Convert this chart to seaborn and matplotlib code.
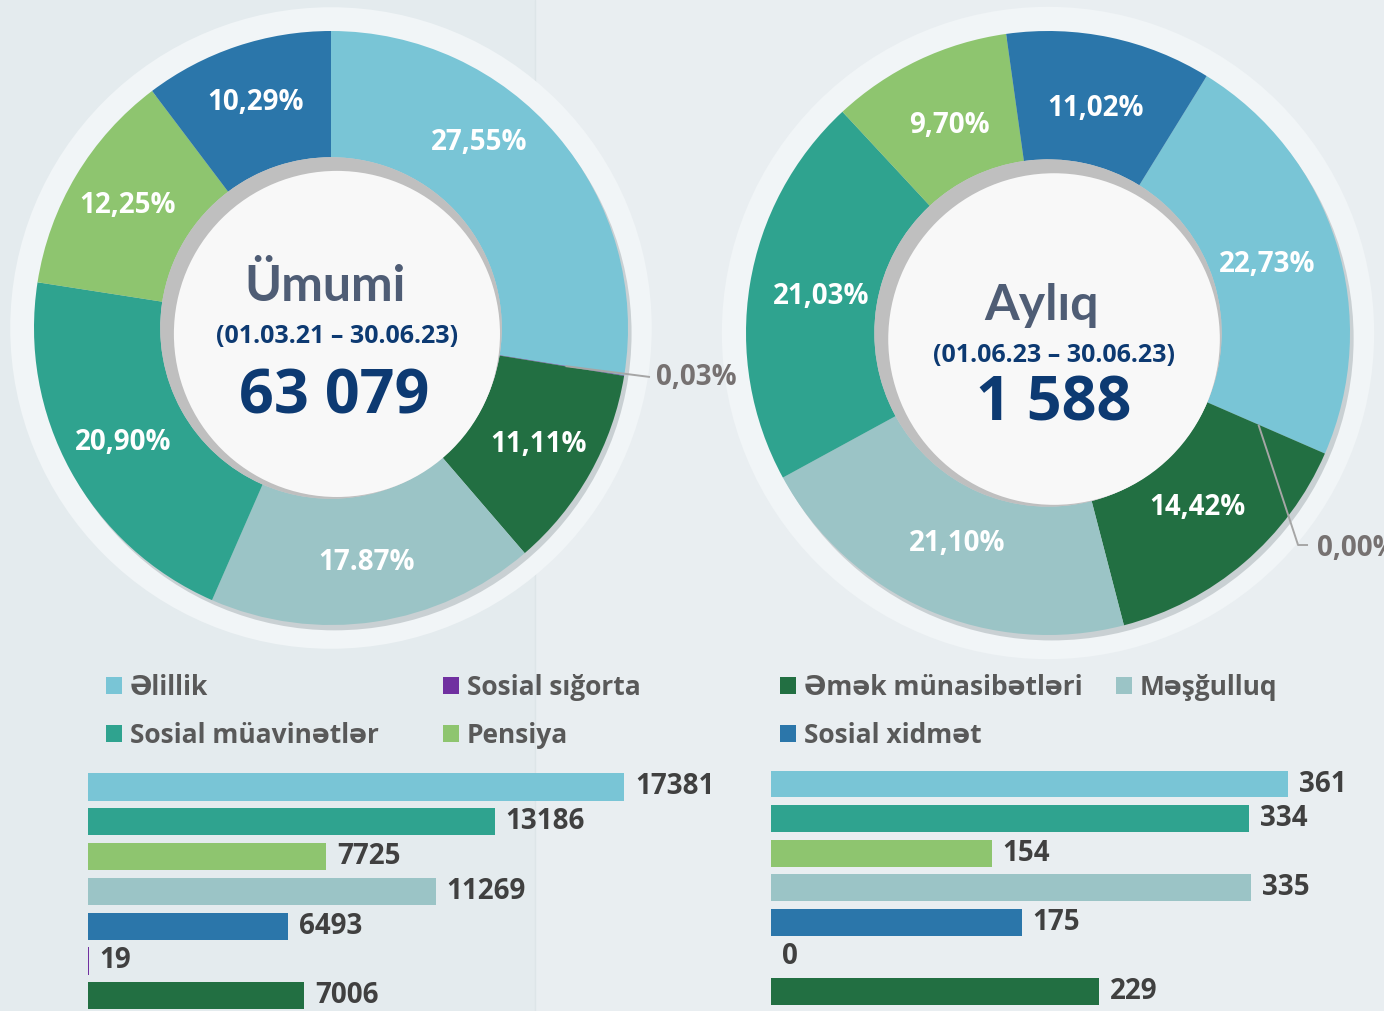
import numpy as np
import pandas as pd
import matplotlib
matplotlib.use("Agg")
import matplotlib.pyplot as plt
from matplotlib.patches import Circle, Patch, Rectangle
import seaborn as sns

# ---- data -------------------------------------------------------------
categories = ["Əlillik", "Sosial sığorta", "Əmək münasibətləri", "Məşğulluq",
              "Sosial müavinətlər", "Pensiya", "Sosial xidmət"]
colors = ["#79c5d6", "#7030a0", "#226f42", "#9bc4c6",
          "#2fa38f", "#8ec56f", "#2b76aa"]

total_share = [27.55, 0.03, 11.11, 17.87, 20.90, 12.25, 10.29]
total_share_text = ["27,55%", "0,03%", "11,11%", "17.87%", "20,90%", "12,25%", "10,29%"]
month_share = [22.73, 0.00, 14.42, 21.10, 21.03, 9.70, 11.02]
month_share_text = ["22,73%", "0,00%", "14,42%", "21,10%", "21,03%", "9,70%", "11,02%"]

bar_order = ["Əlillik", "Sosial müavinətlər", "Pensiya", "Məşğulluq",
             "Sosial xidmət", "Sosial sığorta", "Əmək münasibətləri"]
total_counts = [17381, 13186, 7725, 11269, 6493, 19, 7006]
month_counts = [361, 334, 154, 335, 175, 0, 229]

total_title = "Ümumi"
total_period = "(01.03.21 – 30.06.23)"
total_value = "63 079"
month_title = "Aylıq"
month_period = "(01.06.23 – 30.06.23)"
month_value = "1 588"

# ---- style ------------------------------------------------------------
sns.set_theme(style="white")
plt.rcParams["font.family"] = ["Open Sans", "DejaVu Sans"]

W, H = 1384, 1011
fig = plt.figure(figsize=(W / 100, H / 100), dpi=100)
fig.patch.set_facecolor("#e9eef1")

# two-tone backdrop
bg = fig.add_axes([0, 0, 1, 1], zorder=-10)
bg.set_xlim(0, W)
bg.set_ylim(H, 0)
bg.axis("off")
bg.add_patch(Rectangle((0, 0), 535, H, color="#e4ebee", lw=0))
bg.add_patch(Rectangle((535, 0), W - 535, H, color="#e9eef1", lw=0))
bg.plot([535, 535], [0, H], color="#dde5e8", lw=1)

color_map = dict(zip(categories, colors))
text_dark = "#0d3a72"
LIM = 1.12


def px_axes(cx, cy, half):
    """Axes (in pixel units of the canvas) centred on cx, cy with half-size half."""
    return fig.add_axes([(cx - half) / W, (H - cy - half) / H, 2 * half / W, 2 * half / H])


def donut(cx, cy, r_px, shares, texts, start, label_r, angle_shift,
          title, period, value, title_dy, period_dy, value_dy, title_dx,
          period_dx, value_dx, leader, z):
    ax = px_axes(cx, cy, r_px * LIM)
    ax.set_zorder(z)

    wedges, _ = ax.pie(shares, colors=colors, startangle=90 - start, counterclock=False,
                       radius=1.0, wedgeprops=dict(width=0.425, linewidth=0))
    for w in wedges:
        w.set_zorder(2)
    ax.set_xlim(-LIM, LIM)
    ax.set_ylim(-LIM, LIM)
    ax.set_aspect("equal")
    ax.axis("off")

    # halo and soft outer shadow
    ax.add_patch(Circle((0, 0), 1.08, color="#f1f5f7", lw=0, zorder=0))
    ax.add_patch(Circle((0.012, -0.018), 1.0, color="#9aa3a8", alpha=0.45, lw=0, zorder=1))

    # hole with a grey inner shadow on the upper-left side
    hole = 1.0 - 0.425
    ax.add_patch(Circle((0, 0), hole, color="#bfbfbf", lw=0, zorder=3))
    ax.add_patch(Circle((0.02, -0.02), hole - 0.026, color="#f8f8f8", lw=0, zorder=4))

    # percent labels at slice middles
    cum = np.cumsum([0] + list(shares))
    for i, (s, t) in enumerate(zip(shares, texts)):
        mid = start + 360 * (cum[i] + s / 2) / 100 + angle_shift[i]
        a = np.deg2rad(mid)
        if i == 1:
            # tiny slice: leader line to an outside label
            x0, y0 = np.sin(a) * label_r, np.cos(a) * label_r
            xs = [x0] + [p[0] for p in leader["path"]]
            ys = [y0] + [p[1] for p in leader["path"]]
            ax.plot(xs, ys, color="#a6a6a6", lw=1.4, zorder=5, solid_capstyle="butt")
            ax.text(leader["text"][0], leader["text"][1], t, ha="left", va="center",
                    fontsize=20, fontweight="bold", color="#767171", zorder=6)
            continue
        ax.text(np.sin(a) * label_r, np.cos(a) * label_r, t, ha="center", va="center",
                fontsize=20, fontweight="bold", color="white", zorder=6)

    ax.text(title_dx, title_dy, title, ha="center", va="center", fontsize=36,
            family=["Lato", "Open Sans", "DejaVu Sans"], fontweight="bold",
            color="#4f5d75", zorder=7)
    ax.text(period_dx, period_dy, period, ha="center", va="center", fontsize=18,
            fontweight="bold", color=text_dark, zorder=7)
    ax.text(value_dx, value_dy, value, ha="center", va="center", fontsize=44,
            fontweight="bold", color=text_dark, zorder=7)
    return ax


donut(331, 328, 297, total_share, total_share_text, start=0, label_r=0.80,
      angle_shift=[-11, 0, 0, 0, 0, 0, 0],
      title=total_title, period=total_period, value=total_value,
      title_dy=0.14, period_dy=-0.03, value_dy=-0.235,
      title_dx=-0.02, period_dx=0.02, value_dx=0.01,
      leader=dict(path=[(1.074, -0.165)], text=(1.095, -0.168)), z=3)

donut(1048, 333, 302, month_share, month_share_text, start=31.7, label_r=0.76,
      angle_shift=[0] * 7,
      title=month_title, period=month_period, value=month_value,
      title_dy=0.09, period_dy=-0.075, value_dy=-0.24,
      title_dx=-0.02, period_dx=0.02, value_dx=0.02,
      leader=dict(path=[(0.828, -0.702), (0.861, -0.702)], text=(0.89, -0.714)), z=2)

# ---- legend: four columns, filled row by row ---------------------------
legend_cols = [["Əlillik", "Sosial müavinətlər"], ["Sosial sığorta", "Pensiya"],
               ["Əmək münasibətləri", "Sosial xidmət"], ["Məşğulluq"]]
col_x = [106, 443, 780, 1116]
for x, names in zip(col_x, legend_cols):
    handles = [Patch(facecolor=color_map[n], edgecolor="none") for n in names]
    fig.legend(handles, names, loc="upper left", bbox_to_anchor=(x / W, 1 - 674 / H),
               frameon=False, prop=dict(weight="bold", size=19),
               labelcolor="#595959", handlelength=0.6, handleheight=0.6,
               handletextpad=0.3, labelspacing=0.8, borderpad=0, borderaxespad=0)


# ---- horizontal bars ---------------------------------------------------
def bars(x0, top, pitch, px_per_unit, counts):
    width_px = 600
    ax = fig.add_axes([x0 / W, (H - top - 7 * pitch) / H, width_px / W, 7 * pitch / H])
    df = pd.DataFrame({"category": bar_order, "count": counts})
    sns.barplot(data=df, y="category", x="count", hue="category", order=bar_order,
                hue_order=bar_order, palette=color_map, legend=False, width=0.78,
                linewidth=0, saturation=1, ax=ax)
    ax.set_xlim(0, width_px / px_per_unit)
    ax.set_ylim(6.5, -0.5)
    ax.axis("off")
    for c in ax.containers:
        ax.bar_label(c, fmt="%d", padding=8, fontsize=20, fontweight="bold", color="#404040")
    return ax


bars(88, 769.6, 34.8, 536 / 17381, total_counts)
bars(771, 766.7, 34.6, 517 / 361, month_counts)

fig.savefig("out.png", dpi=100)
